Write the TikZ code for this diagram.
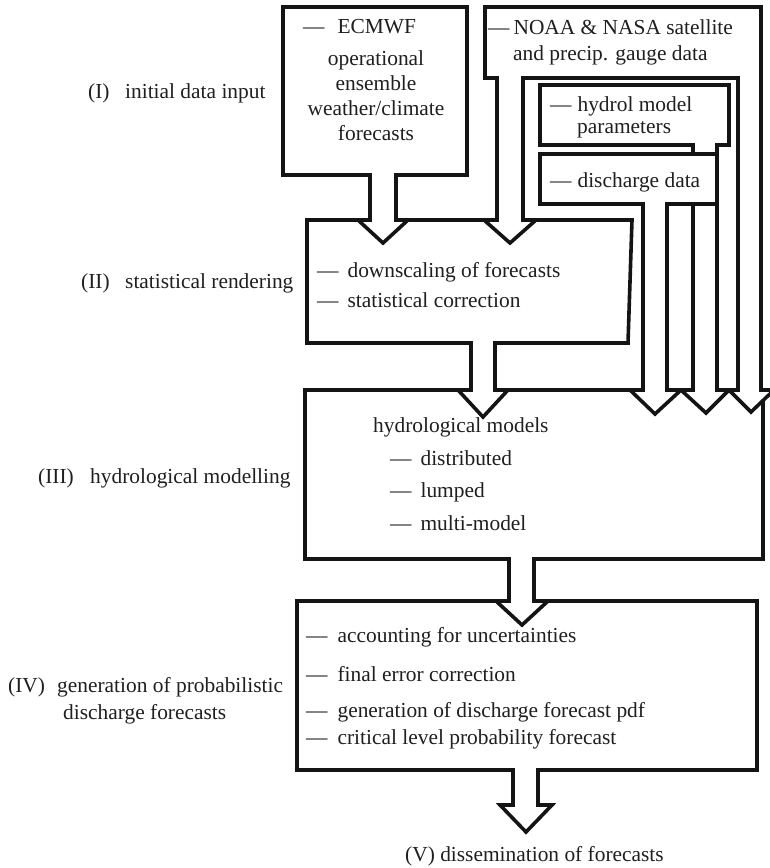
\documentclass[tikz,border=0pt]{standalone}
\usepackage{fontspec}
\setmainfont{Liberation Serif}
\begin{document}
\begin{tikzpicture}[x=1pt,y=-1pt,
  blk/.style={line width=3.6pt, line join=miter, miter limit=10, fill=white, draw=black!92},
  lbl/.style={inner sep=0pt, anchor=base west, text=black!88, font=\fontsize{21.4}{25}\selectfont},
  clbl/.style={inner sep=0pt, anchor=base, text=black!88, font=\fontsize{21.4}{25}\selectfont}]
\useasboundingbox (0,0) rectangle (769,868);

% (IV) box with outgoing arrow
\filldraw[blk] (297,601) -- (757,601) -- (757,770) -- (538,770) -- (538,805) -- (552,805)
  -- (526,832) -- (500,805) -- (513,805) -- (513,770) -- (297,770) -- cycle;
% (III) box with outgoing arrow
\filldraw[blk] (305,390) -- (763,390) -- (763,559) -- (534,559) -- (534,601) -- (548,601)
  -- (522,625) -- (496,601) -- (509,601) -- (509,559) -- (305,559) -- cycle;
% (II) box with outgoing arrow
\filldraw[blk] (307,220) -- (632,220) -- (628,343) -- (495,343) -- (495,390) -- (508,390)
  -- (483,417) -- (458,390) -- (471,390) -- (471,343) -- (307,343) -- cycle;
% hydrol model parameters box with arrow
\filldraw[blk] (540,85) -- (729,85) -- (729,145) -- (717,145) -- (717,390) -- (729,390)
  -- (706,413) -- (681,390) -- (693,390) -- (693,145) -- (540,145) -- cycle;
% discharge data box with arrow
\filldraw[blk] (540,154) -- (717,154) -- (717,204) -- (667,204) -- (667,390) -- (681,390)
  -- (655,414) -- (630,390) -- (643,390) -- (643,204) -- (540,204) -- cycle;
% NOAA & NASA box with two arrows
\filldraw[blk] (497,220) -- (497,78) -- (485,78) -- (485,7) -- (761,7) -- (761,390) -- (774,390)
  -- (751,412) -- (729,390) -- (738,390) -- (738,78) -- (523,78) -- (523,220) -- (536,220)
  -- (510,243) -- (484,220) -- cycle;
% ECMWF box with arrow
\filldraw[blk] (370,175) -- (283,175) -- (283,7) -- (467,7) -- (467,175) -- (396,175)
  -- (396,220) -- (408,220) -- (383,243) -- (358,220) -- (370,220) -- cycle;

% texts in ECMWF box
\node[lbl] (ec1) at (303,33) {---\hspace{13pt}ECMWF};
\node[clbl] (ec2) at (376,65) {operational};
\node[clbl] (ec3) at (376,90) {ensemble};
\node[clbl] (ec4) at (376,115) {weather/climate};
\node[clbl] (ec5) at (376,140) {forecasts};
% NOAA
\node[lbl] (no1) at (488,34) {---\hspace{4pt}NOAA \& NASA satellite};
\node[lbl] (no2) at (513,60) {and precip. gauge data};
% hydrol
\node[lbl] (hy1) at (550,111) {---\hspace{6pt}hydrol model};
\node[lbl] (hy2) at (577,133) {parameters};
% discharge
\node[lbl] (dd1) at (550,187) {---\hspace{6pt}discharge data};
% box II
\node[lbl] (s1) at (317,277) {---\hspace{9pt}downscaling of forecasts};
\node[lbl] (s2) at (317,307) {---\hspace{9pt}statistical correction};
% box III
\node[lbl] (h0) at (373,432) {hydrological models};
\node[lbl] (h1) at (390,465) {---\hspace{9pt}distributed};
\node[lbl] (h2) at (390,497) {---\hspace{9pt}lumped};
\node[lbl] (h3) at (390,530) {---\hspace{9pt}multi-model};
% box IV
\node[lbl] (p1) at (306,642) {---\hspace{10pt}accounting for uncertainties};
\node[lbl] (p2) at (306,681) {---\hspace{10pt}final error correction};
\node[lbl] (p3) at (306,717) {---\hspace{10pt}generation of discharge forecast pdf};
\node[lbl] (p4) at (306,744) {---\hspace{10pt}critical level probability forecast};
% (V)
\node[lbl] (v) at (405,861) {(V) dissemination of forecasts};

% stage labels
\node[lbl] (L1a) at (88,98) {(I)};
\node[lbl] (L1b) at (125,98) {initial data input};
\node[lbl] (L2a) at (81,288) {(II)};
\node[lbl] (L2b) at (125,288) {statistical rendering};
\node[lbl] (L3a) at (38,483) {(III)};
\node[lbl] (L3b) at (90,483) {hydrological modelling};
\node[lbl] (L4a) at (8,692) {(IV)};
\node[lbl] (L4b) at (57,692) {generation of probabilistic};
\node[lbl] (L4c) at (63,719) {discharge forecasts};
\end{tikzpicture}
\end{document}
